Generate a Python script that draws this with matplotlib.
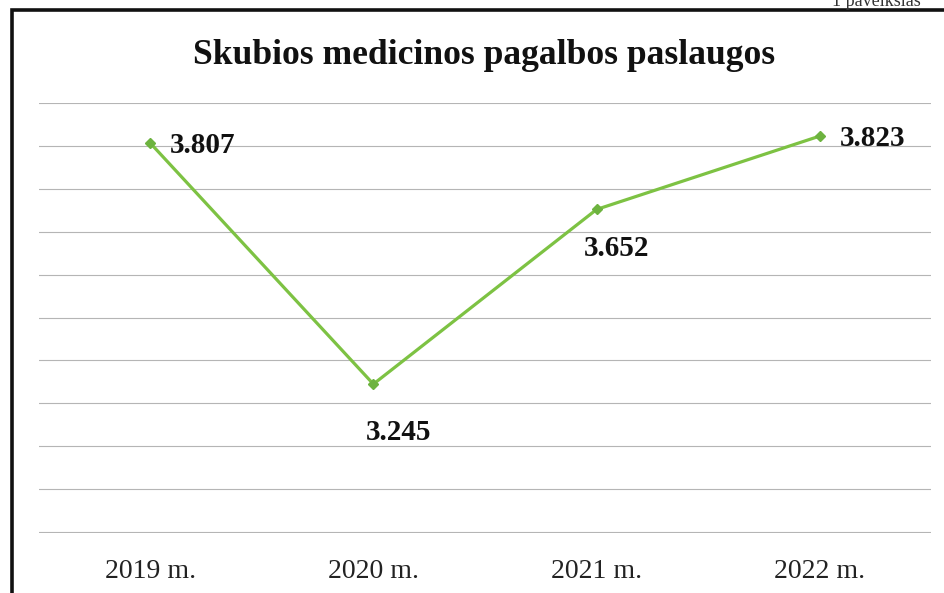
#Used for making plots
import matplotlib.pyplot as plt
from matplotlib.patches import Rectangle

#Chart data
years = ['2019 m.', '2020 m.', '2021 m.', '2022 m.']
values = [3.807, 3.245, 3.652, 3.823]
value_labels = ['3.807', '3.245', '3.652', '3.823']

plt.rcParams['font.family'] = ['Liberation Serif', 'DejaVu Serif']

fig = plt.figure(figsize=(9.45, 5.93), dpi=100)
ax = fig.add_axes([38.5 / 945, 60 / 593, 893 / 945, 430 / 593])

x = range(len(years))
ax.plot(x, values, color='#7dc243', linewidth=2.3, marker='D', markersize=5,
        markerfacecolor='#6db33f', markeredgecolor='#6db33f', zorder=3)

#Label offsets in points (dx, dy) for each point
offsets = [(14, -2), (18, -35), (14, -28), (14, -2)]
aligns = ['left', 'center', 'center', 'left']
for i in range(len(values)):
    ax.annotate(value_labels[i], (i, values[i]), xytext=offsets[i], textcoords='offset points',
                ha=aligns[i], va='center', fontsize=21, fontweight='bold', color='#111111')

ax.set_xlim(-0.5, 3.5)
ax.set_ylim(2.898, 3.9)
ax.set_yticks([2.9 + 0.1 * k for k in range(11)])
ax.yaxis.grid(True, color='#b5b5b5', linewidth=0.8)
ax.set_axisbelow(True)
ax.tick_params(axis='y', left=False, labelleft=False)
ax.tick_params(axis='x', bottom=False, labelsize=20, pad=15, colors='#222222')
ax.set_xticks(list(x))
ax.set_xticklabels(years)
for s in ax.spines.values():
    s.set_visible(False)

fig.text(484 / 945, 1 - 56 / 593, 'Skubios medicinos pagalbos paslaugos', ha='center', va='center',
         fontsize=25.6, fontweight='bold', color='#111111')

#Frame border from the scanned page
fig.patches.append(Rectangle((11.5 / 945, -0.1), 1.2, 1.1 - 10.5 / 593, transform=fig.transFigure,
                             fill=False, edgecolor='#111111', linewidth=2.6))
fig.text(832 / 945, 1 - 1 / 593, '1 paveikslas', ha='left', va='center', fontsize=13, color='#333333')

plt.savefig('out.png', dpi=100)
